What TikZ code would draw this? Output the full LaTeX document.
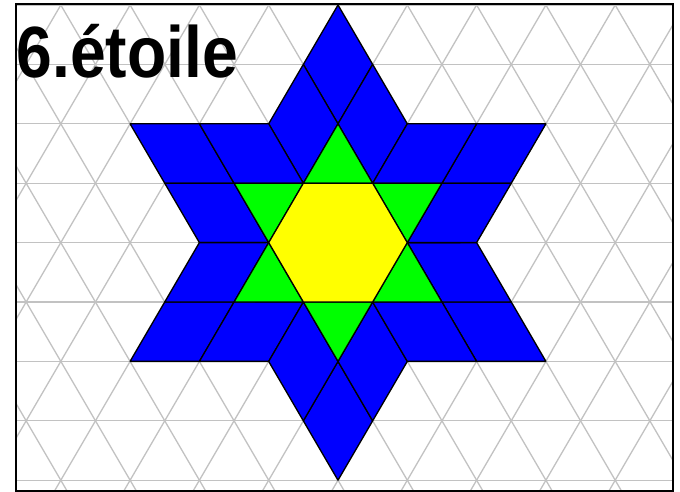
\documentclass[tikz,border=0pt]{standalone}
\usepackage{fontspec}
\setmainfont{Liberation Sans}
\tikzset{
  gridline/.style={draw=black!24, line width=1.3pt},
  piece/.style={draw=black, line width=1.3pt, line join=round},
  bluepiece/.style={piece, fill={rgb,255:red,0;green,0;blue,255}},
  greenpiece/.style={piece, fill={rgb,255:red,0;green,255;blue,0}},
  yellowpiece/.style={piece, fill={rgb,255:red,255;green,255;blue,0}},
}
\begin{document}
\begin{tikzpicture}[x=1pt,y=1pt]
\useasboundingbox (0,0) rectangle (680,-492);
\fill[white] (0,0) rectangle (680,-492);
% triangular grid
\begin{scope}
\clip (16,-4) rectangle (673,-491);
\foreach \k in {0,...,8} {
  \draw[gridline] (16,{-(5+59.4*\k)}) -- (673,{-(5+59.4*\k)});
}
\foreach \m in {-12,...,12} {
  \draw[gridline] ({338+\m*69.3+34.65},{-(5-59.4)}) -- ({338+\m*69.3-9*34.65},{-(5+9*59.4)});
  \draw[gridline] ({338+\m*69.3-34.65},{-(5-59.4)}) -- ({338+\m*69.3+9*34.65},{-(5+9*59.4)});
}
\end{scope}
% star
\begin{scope}[shift={(338,-242.6)}, yscale=0.9897]
\begin{scope}[scale=69.3]
\foreach \a in {0,60,...,300} {
  \begin{scope}[rotate=\a]
    \path[bluepiece] (0,3.4641) -- (-0.5,2.5981) -- (0,1.7321) -- (0.5,2.5981) -- cycle;
    \path[bluepiece] (-0.5,2.5981) -- (-1,1.7321) -- (-0.5,0.8660) -- (0,1.7321) -- cycle;
    \path[bluepiece] (0.5,2.5981) -- (0,1.7321) -- (0.5,0.8660) -- (1,1.7321) -- cycle;
    \path[greenpiece] (0,1.7321) -- (-0.5,0.8660) -- (0.5,0.8660) -- cycle;
  \end{scope}
}
\path[yellowpiece] (1,0) -- (0.5,0.8660) -- (-0.5,0.8660) -- (-1,0) -- (-0.5,-0.8660) -- (0.5,-0.8660) -- cycle;
\end{scope}
\end{scope}
% frame
\draw[black, line width=1.6pt] (16,-4) rectangle (673,-491);
% title
\node[anchor=base west, inner sep=0pt, xscale=0.885, font=\bfseries\fontsize{72.6}{80}\selectfont] (title) at (16.5,-78) {6.étoile};
\end{tikzpicture}
\end{document}
